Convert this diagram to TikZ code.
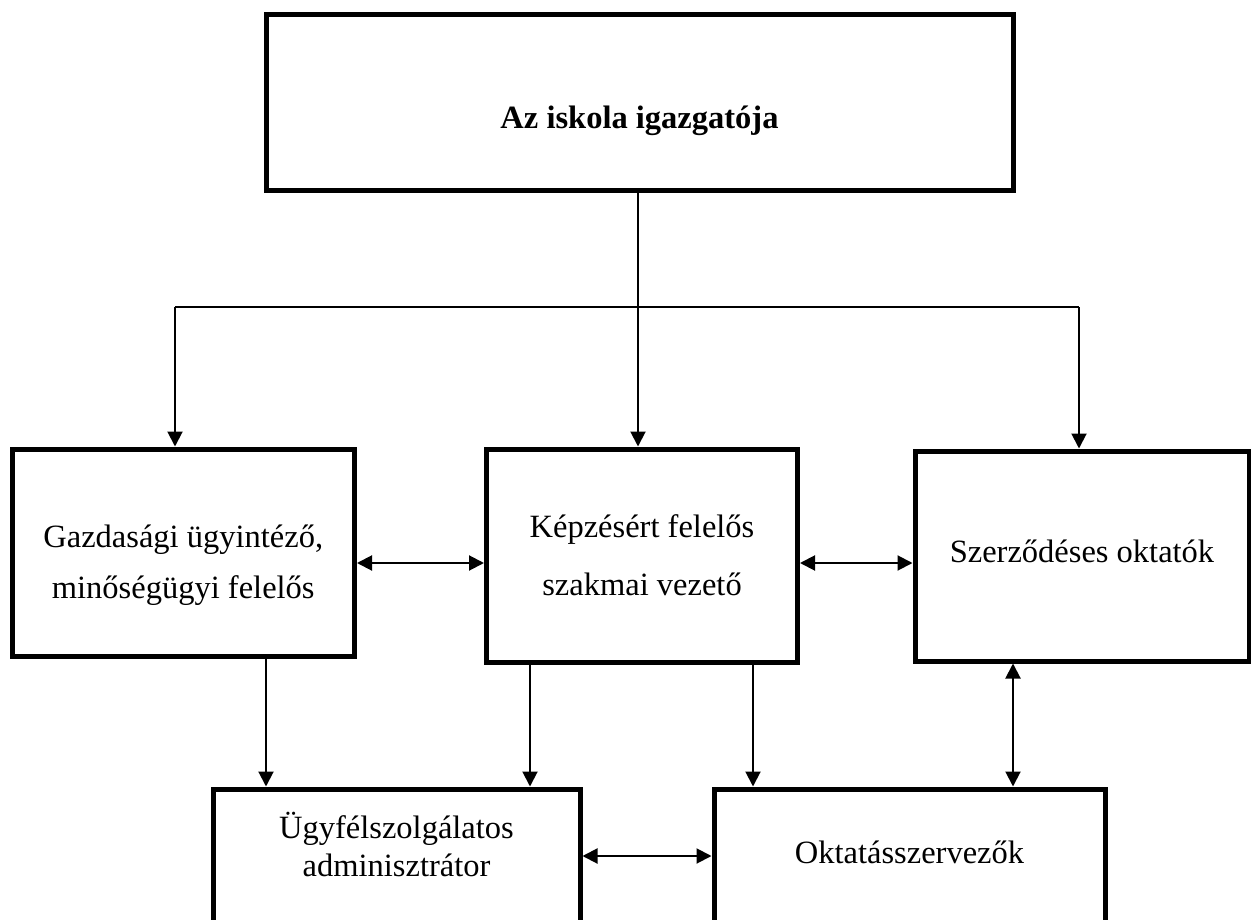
\documentclass[tikz,border=0pt]{standalone}
\usepackage{fontspec}
\setmainfont{Liberation Serif}
\usetikzlibrary{arrows.meta}
\begin{document}
\begin{tikzpicture}[x=1pt,y=-1pt,
  box/.style={draw,line width=5pt,rectangle,inner sep=0pt},
  conn/.style={line width=2pt},
  arr/.style={conn,-{Triangle[length=15pt,width=15pt]}},
  darr/.style={conn,{Triangle[length=15pt,width=15pt]}-{Triangle[length=15pt,width=15pt]}},
  txt/.style={anchor=base,inner sep=0pt,align=center,font=\fontsize{32.5}{32.5}\selectfont}]
\useasboundingbox (0,0) rectangle (1251,920);
\fill[white] (0,0) rectangle (1251,920);
% boxes
\node[box,minimum width=747pt,minimum height=176pt] (top) at (639.5,102.5) {};
\node[box,minimum width=342.5pt,minimum height=207pt] (g) at (183.25,552.5) {};
\node[box,minimum width=311pt,minimum height=213pt] (k) at (642,555.5) {};
\node[box,minimum width=334pt,minimum height=210pt] (s) at (1082,556) {};
\node[box,minimum width=367pt,minimum height=180pt] (u) at (396.5,879) {};
\node[box,minimum width=391pt,minimum height=180pt] (o) at (909.5,879) {};
% texts
\node[txt,font=\fontsize{32.5}{32.5}\selectfont\bfseries] (ttop) at (639.5,129) {Az iskola igazgatója};
\node[txt] (tg1) at (183.25,547) {Gazdasági ügyintéző,};
\node[txt] (tg2) at (183.25,598) {minőségügyi felelős};
\node[txt] (tk1) at (642,537) {Képzésért felelős};
\node[txt] (tk2) at (642,595) {szakmai vezető};
\node[txt] (ts) at (1082,562) {Szerződéses oktatók};
\node[txt] (tu1) at (396.5,838) {Ügyfélszolgálatos};
\node[txt] (tu2) at (396.5,876) {adminisztrátor};
\node[txt] (to) at (909.5,863) {Oktatásszervezők};
% connector coordinates
\coordinate (jl) at (175,307);
\coordinate (jm) at (638,307);
\coordinate (jr) at (1079,307);
\coordinate (ya) at (0,563);
\coordinate (yb) at (0,856);
\coordinate (x1) at (266,0);
\coordinate (x2) at (530,0);
\coordinate (x3) at (753,0);
\coordinate (x4) at (1013,0);
% connectors
\draw[conn] (top.south -| jm) -- (jm);
\draw[conn] (jl) -- (jr);
\draw[arr] (jl) -- (jl |- g.north);
\draw[arr] (jm) -- (jm |- k.north);
\draw[arr] (jr) -- (jr |- s.north);
\draw[darr] (g.east |- ya) -- (k.west |- ya);
\draw[darr] (k.east |- ya) -- (s.west |- ya);
\draw[arr] (g.south -| x1) -- (u.north -| x1);
\draw[arr] (k.south -| x2) -- (u.north -| x2);
\draw[arr] (k.south -| x3) -- (o.north -| x3);
\draw[darr] (s.south -| x4) -- (o.north -| x4);
\draw[darr] (u.east |- yb) -- (o.west |- yb);
\end{tikzpicture}
\end{document}
